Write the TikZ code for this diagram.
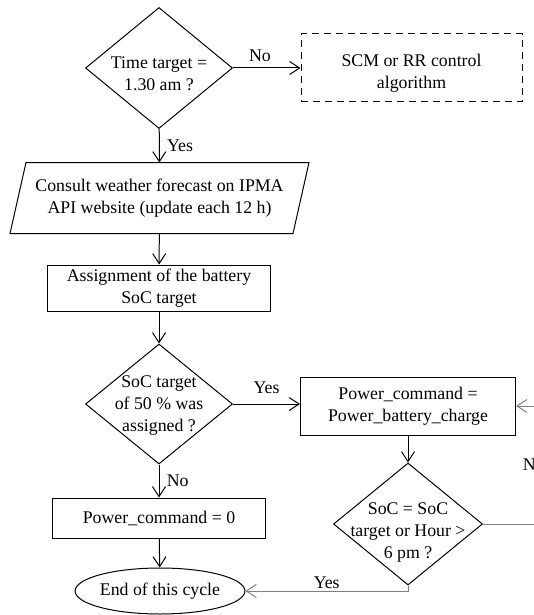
\documentclass[tikz,border=0pt]{standalone}
\usepackage{fontspec}
\setmainfont{Liberation Serif}
\usepackage{xcolor}
\usetikzlibrary{shapes.geometric,arrows.meta,calc}

\definecolor{linegray}{gray}{0.5}

\begin{document}
\begin{tikzpicture}[x=1pt,y=-1pt,
  font=\fontsize{17.8}{22}\selectfont,
  line width=1pt,
  arr/.style={-{Straight Barb[length=10pt,width=13pt]}},
  arrg/.style={arr,linegray},
  box/.style={draw,rectangle,align=center,inner sep=0pt},
  decision/.style={draw,diamond,inner sep=0pt},
  txt/.style={align=center,inner sep=0pt,text=black}]
\useasboundingbox (0,0) rectangle (534,615);
\clip (0,0) rectangle (534,615);

\node[decision,minimum width=147,minimum height=121] (q1) at (159,68) {};
\node[txt] (q1txt) at (159,74) {Time target =\\1.30 am ?};
\node[draw,dash pattern=on 7pt off 5pt,minimum width=221,minimum height=68] (scm) at (411.5,68) {};
\node[txt] (scmtxt) at (411.5,73) {SCM or RR control\\algorithm};

% input/output step: slanted outline around a plain node
\node[txt,minimum width=282,minimum height=70] (consult) at (159.5,198) {Consult weather forecast on IPMA\\API website (update each 12 h)};
\draw ([xshift=8]consult.north west) -- ([xshift=8]consult.north east)
  -- ([xshift=-8]consult.south east) -- ([xshift=-8]consult.south west) -- cycle;

\node[box,minimum width=223,minimum height=46] (soc) at (159,288) {Assignment of the battery\\SoC target};
\node[decision,minimum width=147,minimum height=120] (q2) at (159,404) {};
\node[txt] (q2txt) at (159,406) {SoC target\\of 50 \% was\\assigned ?};
\node[box,minimum width=215,minimum height=58] (power) at (408,406) {Power\_command =\\Power\_battery\_charge};
\node[decision,minimum width=149,minimum height=122] (q3) at (408,524) {};
\node[txt] (q3txt) at (408,532) {SoC = SoC\\target or Hour >\\6 pm ?};
\node[box,minimum width=213,minimum height=40] (zero) at (159,518) {Power\_command = 0};
\node[draw,ellipse,minimum width=163,minimum height=46,inner sep=0pt] (endc) at (160,591) {End of this cycle};

\draw[arr] (q1) -- (scm) node[pos=0.4,above=2pt] {No};
\draw[arr] (q1) -- (consult) node[midway,right=4pt] {Yes};
\draw[arr] (consult) -- (soc);
\draw[arr] (soc) -- (q2);
\draw[arr] (q2.east) -- (q2.east -| power.west) node[midway,above=6pt] {Yes};
\draw[arr] (power) -- (q3);
\draw[arr] (q2) -- (zero) node[midway,right=4pt] {No};
\draw[arr] (zero) -- (endc);

% loop back / exit of the charging test
\draw[arrg] (q3.south) |- (endc.east) node[pos=0.75,above=2pt,txt] {Yes};
\draw[arrg] (q3.east) -- ++(70,0) |- (power.east) node[pos=0.25,left=8pt,txt] {No};
\end{tikzpicture}
\end{document}
